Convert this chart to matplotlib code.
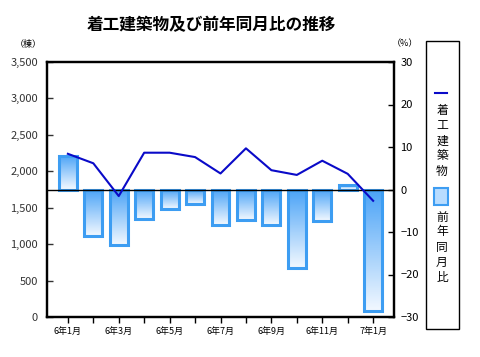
import numpy as np
import matplotlib
matplotlib.use("Agg")
import matplotlib.pyplot as plt
from matplotlib.colors import LinearSegmentedColormap
from matplotlib.patches import Rectangle
from matplotlib.lines import Line2D

plt.rcParams['font.family'] = ['Noto Sans CJK JP', 'DejaVu Sans']

months = ['6年1月', '6年2月', '6年3月', '6年4月', '6年5月', '6年6月', '6年7月',
          '6年8月', '6年9月', '6年10月', '6年11月', '6年12月', '7年1月']
buildings = [2240, 2110, 1660, 2255, 2255, 2195, 1970, 2315, 2015, 1950, 2145, 1965, 1595]
yoy = [7.9, -10.9, -13.1, -6.9, -4.6, -3.4, -8.4, -7.2, -8.4, -18.5, -7.5, 1.1, -28.5]

fig = plt.figure(figsize=(4.8, 3.57), dpi=100)
ax = fig.add_axes([47/480, 1-317/357, (394-47)/480, (317-62)/357])
ax2 = ax.twinx()
ax.set_zorder(ax2.get_zorder() + 1)
ax.patch.set_visible(False)

x = np.arange(len(months))
w = 0.7
cmap = LinearSegmentedColormap.from_list('g', ['#f2f8ff', '#4aa3f7'])
grad = np.linspace(1, 0, 64).reshape(-1, 1)
for xi, v in zip(x, yoy):
    lo, hi = min(0, v), max(0, v)
    ax2.imshow(grad, extent=[xi - w/2, xi + w/2, lo, hi], aspect='auto',
               cmap=cmap, vmin=0, vmax=1, zorder=1)
ax2.bar(x, yoy, width=w, facecolor='none', edgecolor='#3d9df2', linewidth=2.2, zorder=2)
ax2.axhline(0, color='black', lw=1, zorder=3)

ax.plot(x, buildings, color='#0a0ac8', lw=1.5, zorder=4)

ax.set_xlim(-0.82, 12.82)
ax2.set_xlim(-0.82, 12.82)
ax.set_ylim(0, 3500)
ax2.set_ylim(-30, 30)
ax.set_yticks(range(0, 3501, 500))
ax.set_yticklabels([f'{v:,}' for v in range(0, 3501, 500)])
ax2.set_yticks(range(-30, 31, 10))
ax.set_xticks(x)
ax.set_xticklabels([m if i % 2 == 0 else '' for i, m in enumerate(months)])

ax.tick_params(axis='y', direction='in', length=4, width=1, labelsize=8, pad=6.5, colors='#333333')
ax.tick_params(axis='x', direction='out', length=4, width=1, labelsize=6.5, pad=3)
ax2.tick_params(axis='y', direction='in', length=4, width=1, labelsize=8, pad=4.5)
for a in (ax, ax2):
    for s in a.spines.values():
        s.set_linewidth(1.6)

fig.text(211/480, 1-25/357, '着工建築物及び前年同月比の推移', ha='center', va='center',
         fontsize=12, fontweight='bold')
fig.text(28/480, 1-44/357, '（棟）', ha='center', va='center', fontsize=6.5)
fig.text(405/480, 1-44/357, '（%）', ha='center', va='center', fontsize=6.5)

# legend box
fig.patches.append(Rectangle((426/480, 1-329/357), 33/480, 288/357, transform=fig.transFigure,
                             fill=False, edgecolor='black', lw=1))
fig.lines.append(Line2D([435/480, 447/480], [1-93/357, 1-93/357], transform=fig.transFigure,
                        color='#0a0ac8', lw=1.5))
fig.text(442/480, 1-141/357, '\n'.join('着工建築物'), ha='center', va='center',
         fontsize=8.5, linespacing=1.2)
fig.patches.append(Rectangle((434/480, 1-205/357), 14/480, 17/357, transform=fig.transFigure,
                             facecolor='#b8dcff', edgecolor='#3d9df2', lw=1.5))
fig.text(442/480, 1-247/357, '\n'.join('前年同月比'), ha='center', va='center',
         fontsize=8.5, linespacing=1.2)

fig.savefig('out.png', dpi=100)
